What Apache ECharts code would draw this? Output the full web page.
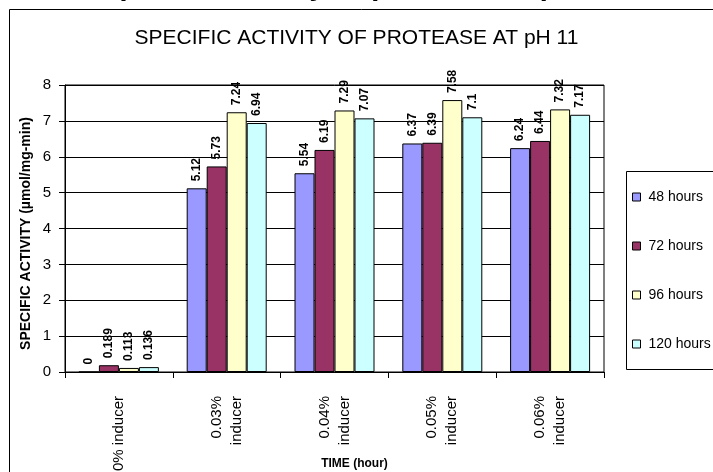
<!DOCTYPE html>
<html>
<head>
<meta charset="utf-8">
<style>
  html, body { margin: 0; padding: 0; background: #ffffff; }
  #chart { width: 713px; height: 472px; }
</style>
<script src="https://cdn.jsdelivr.net/npm/echarts@6/dist/echarts.min.js"></script>
</head>
<body>
<div id="chart"></div>
<script>
// Inducer concentrations on the x axis
const categories = ['0% inducer', '0.03%\ninducer', '0.04%\ninducer', '0.05%\ninducer', '0.06%\ninducer'];

// Specific activity (µmol/mg-min) per incubation time
const hours48 = [0, 5.12, 5.54, 6.37, 6.24];
const hours72 = [0.189, 5.73, 6.19, 6.39, 6.44];
const hours96 = [0.113, 7.24, 7.29, 7.58, 7.32];
const hours120 = [0.136, 6.94, 7.07, 7.1, 7.17];

const seriesNames = ['48 hours', '72 hours', '96 hours', '120 hours'];
const seriesColors = ['#9999FF', '#993366', '#FFFFCC', '#CCFFFF'];
const seriesData = [hours48, hours72, hours96, hours120];

const sans = '"Liberation Sans", Arial, sans-serif';

const chart = echarts.init(document.getElementById('chart'), null, { renderer: 'canvas' });

chart.setOption({
  backgroundColor: '#ffffff',
  animation: false,
  title: {
    text: 'SPECIFIC ACTIVITY OF PROTEASE AT pH 11',
    left: 'center',
    top: 23,
    textStyle: { fontFamily: sans, fontSize: 21, fontWeight: 'normal', color: '#000' }
  },
  graphic: [
    {
      type: 'text',
      left: 102,
      top: -28,
      silent: true,
      style: {
        text: 'Specific activity of protease at pH 11',
        font: 'italic bold 30px "Liberation Sans", Arial, sans-serif',
        fill: '#000'
      }
    },
    {
      // outer chart frame
      type: 'rect',
      silent: true,
      shape: { x: 9.5, y: 9.5, width: 800, height: 600 },
      style: { fill: 'none', stroke: '#000', lineWidth: 1 },
      z: 100
    },
    {
      // legend frame, running past the right edge
      type: 'rect',
      silent: true,
      shape: { x: 626.5, y: 171.5, width: 200, height: 198 },
      style: { fill: '#fff', stroke: '#000', lineWidth: 1 },
      z: 0
    }
  ],
  legend: {
    orient: 'vertical',
    left: 626,
    top: 171,
    data: seriesNames,
    icon: 'rect',
    itemWidth: 8,
    itemHeight: 8,
    itemGap: 35,
    padding: [19, 6, 19, 6],
    z: 10,
    textStyle: { fontFamily: sans, fontSize: 14, color: '#000', padding: [0, 0, 0, 3] },
    itemStyle: { borderColor: '#000', borderWidth: 1 }
  },
  grid: {
    left: 65,
    right: 109,
    top: 85,
    bottom: 100,
    outerBoundsMode: 'none',
    containLabel: false,
    show: true,
    borderColor: '#000',
    borderWidth: 1,
    backgroundColor: '#fff'
  },
  xAxis: {
    type: 'category',
    data: categories,
    axisLine: { lineStyle: { color: '#000', width: 1 } },
    axisTick: { show: true, length: 6, lineStyle: { color: '#000' } },
    axisLabel: {
      rotate: 90,
      margin: 24,
      fontFamily: sans,
      fontSize: 15,
      lineHeight: 20,
      color: '#000',
      interval: 0,
      hideOverlap: false
    },
    name: 'TIME (hour)',
    nameLocation: 'middle',
    nameGap: 86,
    nameMoveOverlap: false,
    nameTextStyle: {
      fontFamily: sans,
      fontWeight: 'bold',
      fontSize: 12,
      color: '#000',
      padding: [0, 0, 0, 40]
    }
  },
  yAxis: {
    type: 'value',
    min: 0,
    max: 8,
    interval: 1,
    axisLine: { show: true, lineStyle: { color: '#000', width: 1 } },
    axisTick: { show: true, length: 6, lineStyle: { color: '#000' } },
    axisLabel: { fontFamily: sans, fontSize: 15, color: '#000', margin: 14 },
    splitLine: { lineStyle: { color: '#000', width: 1 } },
    name: 'SPECIFIC ACTIVITY (µmol/mg-min)',
    nameLocation: 'middle',
    nameRotate: 90,
    nameGap: 32,
    nameMoveOverlap: false,
    nameTextStyle: {
      fontFamily: sans,
      fontWeight: 'bold',
      fontSize: 14,
      color: '#000',
      padding: [0, 10, 0, 0]
    }
  },
  series: seriesNames.map((name, i) => ({
    name: name,
    type: 'bar',
    data: seriesData[i],
    barWidth: 20,
    barGap: '0%',
    itemStyle: { color: seriesColors[i], borderColor: '#000', borderWidth: 1 },
    label: {
      show: true,
      position: 'top',
      rotate: 90,
      align: 'left',
      verticalAlign: 'middle',
      distance: 7,
      fontFamily: sans,
      fontWeight: 'bold',
      fontSize: 12,
      color: '#000'
    }
  }))
});
</script>
</body>
</html>
